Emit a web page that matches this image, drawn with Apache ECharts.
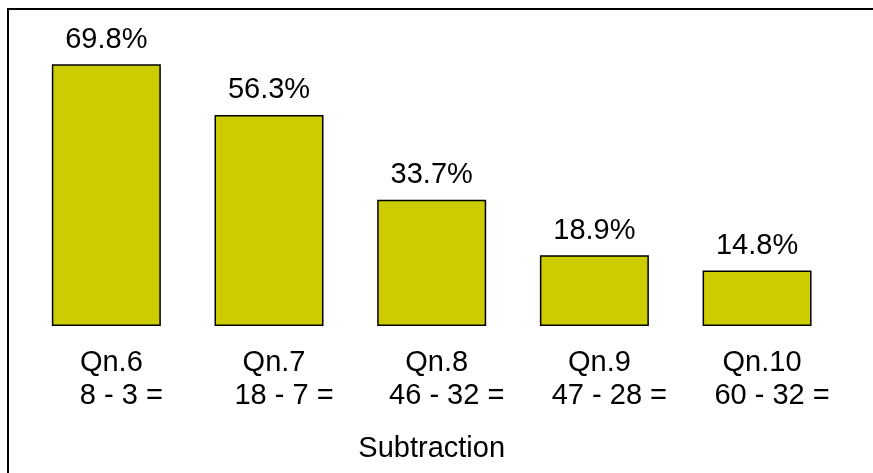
<!DOCTYPE html>
<html>
<head>
<meta charset="utf-8">
<script src="https://cdn.jsdelivr.net/npm/echarts@6/dist/echarts.min.js"></script>
<style>
html,body{margin:0;padding:0;background:#fff;}
#main{width:873px;height:473px;}
</style>
</head>
<body>
<div id="main"></div>
<script>
var questions = ['Qn.6', 'Qn.7', 'Qn.8', 'Qn.9', 'Qn.10'];
var problems = ['8 - 3 =', '18 - 7 =', '46 - 32 =', '47 - 28 =', '60 - 32 ='];
var percentCorrect = [69.8, 56.3, 33.7, 18.9, 14.8];
var axisTitle = 'Subtraction';

var FONT = '"Liberation Sans", Arial, sans-serif';
var chart = echarts.init(document.getElementById('main'), null, {renderer: 'canvas'});
chart.setOption({
  backgroundColor: '#ffffff',
  animation: false,
  grid: {left: 25, right: 34.6, top: 26, bottom: 147, containLabel: false},
  xAxis: {
    type: 'category',
    data: questions.map(function (q, i) { return q + '\n' + problems[i]; }),
    axisLine: {show: false},
    axisTick: {show: false},
    axisLabel: {
      interval: 0,
      margin: 20,
      formatter: function (v) {
        var parts = v.split('\n');
        return '{a|' + parts[0] + '}\n{b|' + parts[1] + '}';
      },
      rich: {
        a: {fontFamily: FONT, fontSize: 29, color: '#000', lineHeight: 33, padding: [0, 0, 0, 10]},
        b: {fontFamily: FONT, fontSize: 29, color: '#000', lineHeight: 33, padding: [0, 0, 0, 30]}
      }
    },
    name: axisTitle,
    nameLocation: 'middle',
    nameGap: 108,
    nameTextStyle: {fontFamily: FONT, fontSize: 29, color: '#000'}
  },
  yAxis: {
    type: 'value', min: 0, max: 80, show: false,
    splitLine: {show: false}
  },
  series: [{
    type: 'bar',
    data: percentCorrect,
    barWidth: '67%',
    itemStyle: {color: '#cccc00', borderColor: '#000', borderWidth: 1.5},
    label: {
      show: true,
      position: 'top',
      distance: 10,
      fontFamily: FONT,
      fontSize: 29,
      color: '#000',
      formatter: function (p) { return p.value.toFixed(1) + '%'; }
    }
  }],
  graphic: [
    {type: 'line', shape: {x1: 8, y1: 9, x2: 873, y2: 9}, style: {stroke: '#000', lineWidth: 2}},
    {type: 'line', shape: {x1: 8, y1: 8, x2: 8, y2: 473}, style: {stroke: '#000', lineWidth: 2}}
  ]
});
</script>
</body>
</html>
